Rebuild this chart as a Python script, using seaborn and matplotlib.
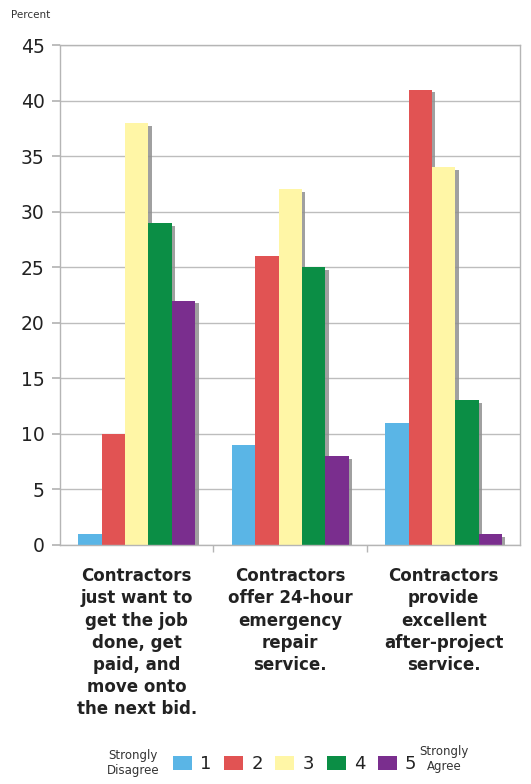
import matplotlib
matplotlib.use("Agg")
import matplotlib.pyplot as plt
import matplotlib.patheffects as pe
from matplotlib.patches import Patch
import seaborn as sns
import pandas as pd

categories = [
    "Contractors\njust want to\nget the job\ndone, get\npaid, and\nmove onto\nthe next bid.",
    "Contractors\noffer 24-hour\nemergency\nrepair\nservice.",
    "Contractors\nprovide\nexcellent\nafter-project\nservice.",
]
ratings = ["1", "2", "3", "4", "5"]
rating_1 = [1, 9, 11]
rating_2 = [10, 26, 41]
rating_3 = [38, 32, 34]
rating_4 = [29, 25, 13]
rating_5 = [22, 8, 1]
palette = ["#5AB5E6", "#E15353", "#FFF6A6", "#0B8E45", "#7A2E8E"]

rows = []
for r, vals in zip(ratings, [rating_1, rating_2, rating_3, rating_4, rating_5]):
    for c, v in zip(categories, vals):
        rows.append({"statement": c, "rating": r, "percent": v})
df = pd.DataFrame(rows)

sns.set_theme(style="white")
plt.rcParams["font.family"] = ["DejaVu Sans"]

fig = plt.figure(figsize=(5.31, 7.84), dpi=100)
ax = fig.add_axes([0.113, 0.305, 0.867, 0.6375])

sns.barplot(data=df, x="statement", y="percent", hue="rating",
            palette=palette, order=categories, hue_order=ratings,
            width=0.76, linewidth=0, saturation=1, ax=ax, legend=False)

# soft grey drop shadow on the right side of every bar
shadow = [pe.SimplePatchShadow(offset=(2.5, -2), shadow_rgbFace="#909090", alpha=0.85), pe.Normal()]
for p in ax.patches:
    p.set_path_effects(shadow)

ax.set_ylim(0, 45)
ax.set_yticks(range(0, 46, 5))
ax.set_xlim(-0.5, 2.5)
ax.yaxis.grid(True, color="#bdbdbd", linewidth=1)
ax.set_axisbelow(True)
for s in ax.spines.values():
    s.set_color("#b5b5b5")
    s.set_linewidth(1)

ax.set_xlabel("")
ax.set_ylabel("")
ax.tick_params(axis="y", labelsize=13.5, colors="#222222", length=6, color="#b5b5b5", left=True, pad=5)
ax.set_xticks([0.5, 1.5], minor=True)
ax.tick_params(axis="x", which="minor", bottom=True, length=5, color="#b5b5b5")
ax.tick_params(axis="x", which="major", bottom=False, labelsize=12, pad=10, colors="#222222")
for lbl in ax.get_xticklabels():
    lbl.set_fontweight("bold")
    lbl.set_linespacing(1.3)
    lbl.set_verticalalignment("top")

fig.text(0.02, 0.981, "Percent", fontsize=7.5, color="#333333", ha="left", va="center")

handles = [Patch(facecolor=c, edgecolor="none") for c in palette]
leg = fig.legend(handles, ratings, loc="center", bbox_to_anchor=(0.555, 0.0255), ncol=5,
                 frameon=False, fontsize=13, handlelength=1.05, handleheight=0.8,
                 handletextpad=0.45, columnspacing=0.7)
for t in leg.get_texts():
    t.set_color("#222222")
fig.text(0.25, 0.027, "Strongly\nDisagree", fontsize=8.5, ha="center", va="center",
         color="#333333", linespacing=1.25, multialignment="center")
fig.text(0.836, 0.032, "Strongly\nAgree", fontsize=8.5, ha="center", va="center",
         color="#333333", linespacing=1.25, multialignment="center")

fig.savefig("out.png", dpi=100)
